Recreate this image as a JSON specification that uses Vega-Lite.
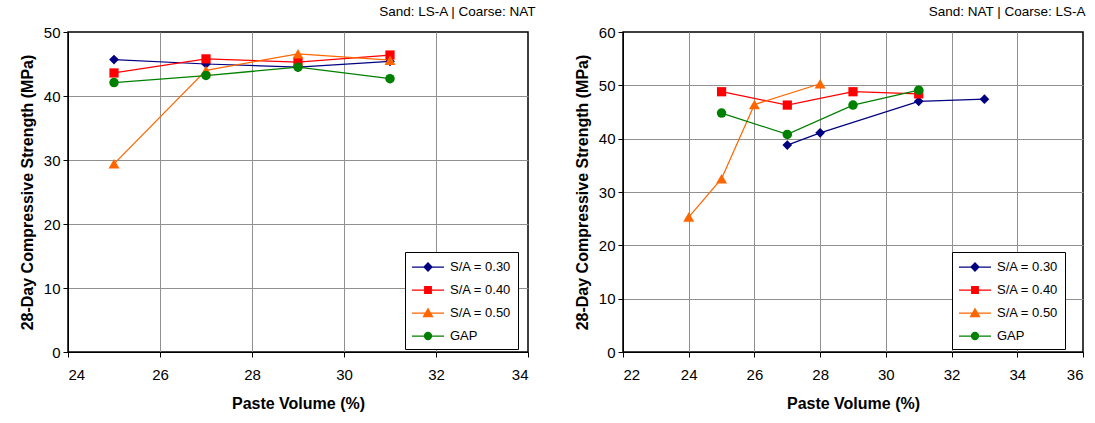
{
  "$schema": "https://vega.github.io/schema/vega-lite/v6.json",
  "background": "white",
  "padding": {"left": 18, "top": 3, "right": 5, "bottom": 5},
  "spacing": 95,
  "bounds": "flush",
  "config": {
    "font": "Liberation Sans",
    "view": {"stroke": "#000000", "strokeWidth": 1.5},
    "axis": {
      "domainColor": "#000000", "domainWidth": 1,
      "tickColor": "#000000", "tickSize": 5, "tickWidth": 1,
      "labelFontSize": 15, "labelColor": "#000000", "labelFont": "Liberation Sans",
      "titleFontSize": 16, "titleFontWeight": "bold", "titleColor": "#000000", "titleFont": "Liberation Sans",
      "gridColor": "#909090", "gridWidth": 1
    },
    "axisX": {"labelPadding": 10, "titlePadding": 13},
    "axisY": {"labelPadding": 3, "titlePadding": 8},
    "title": {"anchor": "end", "fontSize": 13.5, "fontWeight": "normal", "color": "#000000", "font": "Liberation Sans", "offset": 7},
    "legend": {
      "orient": "none",
      "strokeColor": "#000000", "fillColor": "#ffffff", "padding": 6,
      "labelFontSize": 13, "labelFont": "Liberation Sans", "labelColor": "#000000",
      "symbolSize": 256, "symbolOpacity": 1, "symbolStrokeWidth": 1.25,
      "labelOffset": 21, "rowPadding": 7, "labelLimit": 200
    }
  },
  "datasets": {
    "pts": [
      {"panel": "A", "series": "S/A = 0.30", "pv": 25, "fc": 45.7},
      {"panel": "A", "series": "S/A = 0.30", "pv": 27, "fc": 45.0},
      {"panel": "A", "series": "S/A = 0.30", "pv": 29, "fc": 44.5},
      {"panel": "A", "series": "S/A = 0.30", "pv": 31, "fc": 45.4},
      {"panel": "A", "series": "S/A = 0.40", "pv": 25, "fc": 43.6},
      {"panel": "A", "series": "S/A = 0.40", "pv": 27, "fc": 45.8},
      {"panel": "A", "series": "S/A = 0.40", "pv": 29, "fc": 45.3},
      {"panel": "A", "series": "S/A = 0.40", "pv": 31, "fc": 46.4},
      {"panel": "A", "series": "S/A = 0.50", "pv": 25, "fc": 29.4},
      {"panel": "A", "series": "S/A = 0.50", "pv": 27, "fc": 44.0},
      {"panel": "A", "series": "S/A = 0.50", "pv": 29, "fc": 46.6},
      {"panel": "A", "series": "S/A = 0.50", "pv": 31, "fc": 45.6},
      {"panel": "A", "series": "GAP", "pv": 25, "fc": 42.1},
      {"panel": "A", "series": "GAP", "pv": 27, "fc": 43.2},
      {"panel": "A", "series": "GAP", "pv": 29, "fc": 44.5},
      {"panel": "A", "series": "GAP", "pv": 31, "fc": 42.7},
      {"panel": "B", "series": "S/A = 0.30", "pv": 27, "fc": 38.8},
      {"panel": "B", "series": "S/A = 0.30", "pv": 28, "fc": 41.1},
      {"panel": "B", "series": "S/A = 0.30", "pv": 31, "fc": 47.0},
      {"panel": "B", "series": "S/A = 0.30", "pv": 33, "fc": 47.4},
      {"panel": "B", "series": "S/A = 0.40", "pv": 25, "fc": 48.8},
      {"panel": "B", "series": "S/A = 0.40", "pv": 27, "fc": 46.3},
      {"panel": "B", "series": "S/A = 0.40", "pv": 29, "fc": 48.8},
      {"panel": "B", "series": "S/A = 0.40", "pv": 31, "fc": 48.4},
      {"panel": "B", "series": "S/A = 0.50", "pv": 24, "fc": 25.3},
      {"panel": "B", "series": "S/A = 0.50", "pv": 25, "fc": 32.5},
      {"panel": "B", "series": "S/A = 0.50", "pv": 26, "fc": 46.4},
      {"panel": "B", "series": "S/A = 0.50", "pv": 28, "fc": 50.3},
      {"panel": "B", "series": "GAP", "pv": 25, "fc": 44.8},
      {"panel": "B", "series": "GAP", "pv": 27, "fc": 40.8},
      {"panel": "B", "series": "GAP", "pv": 29, "fc": 46.3},
      {"panel": "B", "series": "GAP", "pv": 31, "fc": 49.1}
    ]
  },
  "resolve": {
    "scale": {"x": "independent", "y": "independent"},
    "legend": {"fill": "independent", "stroke": "independent", "shape": "independent"}
  },
  "hconcat": [
    {
      "width": 460, "height": 320,
      "title": {"text": "Sand: LS-A | Coarse: NAT", "dx": 7},
      "data": {"name": "pts"},
      "transform": [{"filter": "datum.panel === 'A'"}],
      "encoding": {
        "x": {"field": "pv", "type": "quantitative", "title": "Paste Volume (%)",
              "scale": {"domain": [24, 34], "nice": false, "zero": false},
              "axis": {"values": [24, 26, 28, 30, 32, 34],
                       "gridColor": {"condition": {"test": "datum.value === 24 || datum.value === 34", "value": "transparent"}, "value": "#909090"}}},
        "y": {"field": "fc", "type": "quantitative", "title": "28-Day Compressive Strength (MPa)",
              "scale": {"domain": [0, 50], "nice": false},
              "axis": {"values": [0, 10, 20, 30, 40, 50],
                       "gridColor": {"condition": {"test": "datum.value === 0 || datum.value === 50", "value": "transparent"}, "value": "#909090"}}}
      },
      "layer": [
        {"mark": {"type": "line", "strokeWidth": 1.25},
         "encoding": {"color": {"field": "series", "type": "nominal", "legend": null,
           "scale": {"domain": ["S/A = 0.30", "S/A = 0.40", "S/A = 0.50", "GAP"], "range": ["#000080", "#FF0000", "#FF6600", "#008000"]}}}},
        {"transform": [{"filter": "datum.series === 'S/A = 0.30'"}],
         "mark": {"type": "point", "filled": true, "opacity": 1, "size": 95, "shape": "diamond"},
         "encoding": {"color": {"field": "series", "type": "nominal", "legend": null}}},
        {"transform": [{"filter": "datum.series === 'S/A = 0.40'"}],
         "mark": {"type": "point", "filled": true, "opacity": 1, "size": 85, "shape": "square"},
         "encoding": {"color": {"field": "series", "type": "nominal", "legend": null}}},
        {"transform": [{"filter": "datum.series === 'S/A = 0.50'"}],
         "mark": {"type": "point", "filled": true, "opacity": 1, "size": 120, "shape": "triangle-up"},
         "encoding": {"color": {"field": "series", "type": "nominal", "legend": null}}},
        {"transform": [{"filter": "datum.series === 'GAP'"}],
         "mark": {"type": "point", "filled": true, "opacity": 1, "size": 90, "shape": "circle"},
         "encoding": {"color": {"field": "series", "type": "nominal", "legend": null}}},
        {"mark": {"type": "point", "opacity": 0, "size": 256},
         "encoding": {
           "fill": {"field": "series", "type": "nominal", "title": null,
             "scale": {"domain": ["S/A = 0.30", "S/A = 0.40", "S/A = 0.50", "GAP"], "range": ["#000080", "#FF0000", "#FF6600", "#008000"]},
             "legend": {"title": null, "legendX": 337, "legendY": 220}},
           "stroke": {"field": "series", "type": "nominal", "title": null,
             "scale": {"domain": ["S/A = 0.30", "S/A = 0.40", "S/A = 0.50", "GAP"], "range": ["#000080", "#FF0000", "#FF6600", "#008000"]},
             "legend": {"title": null, "legendX": 337, "legendY": 220}},
           "shape": {"field": "series", "type": "nominal", "title": null,
             "scale": {"domain": ["S/A = 0.30", "S/A = 0.40", "S/A = 0.50", "GAP"],
                       "range": ["M-1,0H3M0.5,0L1,-0.5L1.5,0L1,0.5Z", "M-1,0H3M0.59,-0.41H1.41V0.41H0.59Z", "M-1,0H3M0.44,0.45H1.56L1,-0.52Z", "M-1,0H3M1.44,0A0.44,0.44,0,1,1,0.56,0A0.44,0.44,0,1,1,1.44,0Z"]},
             "legend": {"title": null, "legendX": 337, "legendY": 220}}
         }}
      ]
    },
    {
      "width": 460, "height": 320,
      "title": {"text": "Sand: NAT | Coarse: LS-A", "dx": 2},
      "data": {"name": "pts"},
      "transform": [{"filter": "datum.panel === 'B'"}],
      "encoding": {
        "x": {"field": "pv", "type": "quantitative", "title": "Paste Volume (%)",
              "scale": {"domain": [22, 36], "nice": false, "zero": false},
              "axis": {"values": [22, 24, 26, 28, 30, 32, 34, 36],
                       "gridColor": {"condition": {"test": "datum.value === 22 || datum.value === 36", "value": "transparent"}, "value": "#909090"}}},
        "y": {"field": "fc", "type": "quantitative", "title": "28-Day Compressive Strength (MPa)",
              "scale": {"domain": [0, 60], "nice": false},
              "axis": {"values": [0, 10, 20, 30, 40, 50, 60],
                       "gridColor": {"condition": {"test": "datum.value === 0 || datum.value === 60", "value": "transparent"}, "value": "#909090"}}}
      },
      "layer": [
        {"mark": {"type": "line", "strokeWidth": 1.25},
         "encoding": {"color": {"field": "series", "type": "nominal", "legend": null,
           "scale": {"domain": ["S/A = 0.30", "S/A = 0.40", "S/A = 0.50", "GAP"], "range": ["#000080", "#FF0000", "#FF6600", "#008000"]}}}},
        {"transform": [{"filter": "datum.series === 'S/A = 0.30'"}],
         "mark": {"type": "point", "filled": true, "opacity": 1, "size": 95, "shape": "diamond"},
         "encoding": {"color": {"field": "series", "type": "nominal", "legend": null}}},
        {"transform": [{"filter": "datum.series === 'S/A = 0.40'"}],
         "mark": {"type": "point", "filled": true, "opacity": 1, "size": 85, "shape": "square"},
         "encoding": {"color": {"field": "series", "type": "nominal", "legend": null}}},
        {"transform": [{"filter": "datum.series === 'S/A = 0.50'"}],
         "mark": {"type": "point", "filled": true, "opacity": 1, "size": 120, "shape": "triangle-up"},
         "encoding": {"color": {"field": "series", "type": "nominal", "legend": null}}},
        {"transform": [{"filter": "datum.series === 'GAP'"}],
         "mark": {"type": "point", "filled": true, "opacity": 1, "size": 90, "shape": "circle"},
         "encoding": {"color": {"field": "series", "type": "nominal", "legend": null}}},
        {"mark": {"type": "point", "opacity": 0, "size": 256},
         "encoding": {
           "fill": {"field": "series", "type": "nominal", "title": null,
             "scale": {"domain": ["S/A = 0.30", "S/A = 0.40", "S/A = 0.50", "GAP"], "range": ["#000080", "#FF0000", "#FF6600", "#008000"]},
             "legend": {"title": null, "legendX": 329, "legendY": 220}},
           "stroke": {"field": "series", "type": "nominal", "title": null,
             "scale": {"domain": ["S/A = 0.30", "S/A = 0.40", "S/A = 0.50", "GAP"], "range": ["#000080", "#FF0000", "#FF6600", "#008000"]},
             "legend": {"title": null, "legendX": 329, "legendY": 220}},
           "shape": {"field": "series", "type": "nominal", "title": null,
             "scale": {"domain": ["S/A = 0.30", "S/A = 0.40", "S/A = 0.50", "GAP"],
                       "range": ["M-1,0H3M0.5,0L1,-0.5L1.5,0L1,0.5Z", "M-1,0H3M0.59,-0.41H1.41V0.41H0.59Z", "M-1,0H3M0.44,0.45H1.56L1,-0.52Z", "M-1,0H3M1.44,0A0.44,0.44,0,1,1,0.56,0A0.44,0.44,0,1,1,1.44,0Z"]},
             "legend": {"title": null, "legendX": 329, "legendY": 220}}
         }}
      ]
    }
  ]
}
